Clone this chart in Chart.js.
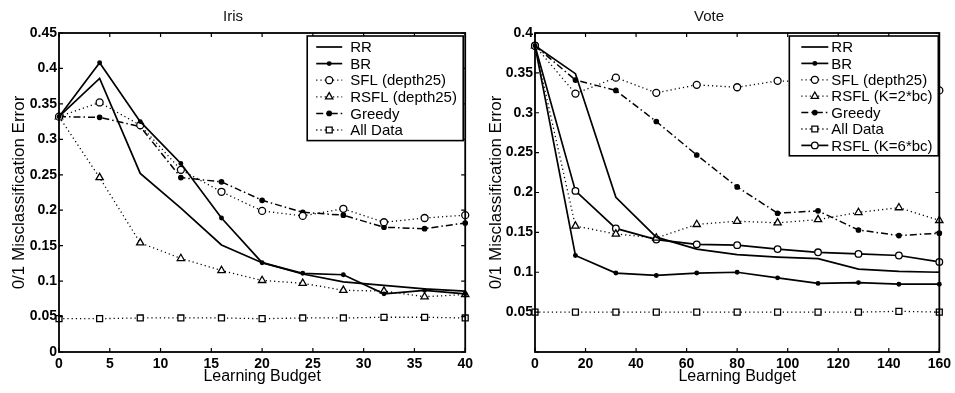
<!DOCTYPE html>
<html>
<head>
<meta charset="utf-8">
<script src="https://cdn.jsdelivr.net/npm/chart.js@4.4.1/dist/chart.umd.min.js"></script>
<style>
  html, body { margin: 0; padding: 0; background: #fff; }
  #wrap { display: flex; width: 955px; height: 393px; }
  .cell { position: relative; height: 393px; }
</style>
</head>
<body>
<div id="wrap">
  <div class="cell" style="width:477px"><canvas id="iris-chart"></canvas></div>
  <div class="cell" style="width:478px"><canvas id="vote-chart"></canvas></div>
</div>
<script>
// --- Data ---
const irisBudget  = [0, 4, 8, 12, 16, 20, 24, 28, 32, 36, 40];
const irisRR      = [0.332, 0.386, 0.252, 0.203, 0.151, 0.126, 0.110, 0.099, 0.094, 0.089, 0.086];
const irisBR      = [0.332, 0.408, 0.325, 0.266, 0.189, 0.126, 0.111, 0.109, 0.082, 0.087, 0.082];
const irisSFL     = [0.332, 0.352, 0.320, 0.257, 0.226, 0.199, 0.192, 0.202, 0.183, 0.189, 0.193];
const irisRSFL    = [0.332, 0.246, 0.154, 0.132, 0.115, 0.101, 0.097, 0.087, 0.086, 0.078, 0.081];
const irisGreedy  = [0.332, 0.331, 0.318, 0.246, 0.240, 0.214, 0.197, 0.193, 0.176, 0.174, 0.182];
const irisAllData = [0.047, 0.047, 0.048, 0.048, 0.048, 0.047, 0.048, 0.048, 0.049, 0.049, 0.048];

const voteBudget  = [0, 16, 32, 48, 64, 80, 96, 112, 128, 144, 160];
const voteRR      = [0.384, 0.349, 0.194, 0.144, 0.129, 0.122, 0.119, 0.117, 0.104, 0.101, 0.100];
const voteBR      = [0.384, 0.121, 0.099, 0.096, 0.099, 0.100, 0.093, 0.086, 0.087, 0.085, 0.085];
const voteSFL     = [0.384, 0.324, 0.344, 0.325, 0.335, 0.332, 0.340, 0.338, 0.336, 0.337, 0.328];
const voteRSFL2   = [0.384, 0.158, 0.148, 0.143, 0.160, 0.164, 0.162, 0.166, 0.175, 0.181, 0.165];
const voteGreedy  = [0.384, 0.341, 0.328, 0.289, 0.247, 0.207, 0.174, 0.177, 0.153, 0.146, 0.149];
const voteAllData = [0.050, 0.050, 0.050, 0.050, 0.050, 0.050, 0.050, 0.050, 0.050, 0.051, 0.050];
const voteRSFL6   = [0.384, 0.202, 0.155, 0.141, 0.135, 0.134, 0.129, 0.125, 0.123, 0.121, 0.113];

const FONT = '"Liberation Sans", Arial, Helvetica, sans-serif';

// line styles, matlab-ish
const styles = {
    RR:      { borderDash: [],             borderWidth: 1.7, pointStyle: 'circle',   pointRadius: 0,   fill: '#000' },
    BR:      { borderDash: [],             borderWidth: 1.7, pointStyle: 'circle',   pointRadius: 1.8, fill: '#000' },
    SFL:     { borderDash: [1.2, 3],       borderWidth: 1.3, pointStyle: 'circle',   pointRadius: 3.5, fill: '#fff' },
    RSFL:    { borderDash: [1.2, 3],       borderWidth: 1.3, pointStyle: 'triangle', pointRadius: 4.2, fill: '#fff' },
    Greedy:  { borderDash: [7, 3, 1.5, 3], borderWidth: 1.5, pointStyle: 'circle',   pointRadius: 2.2, fill: '#000' },
    AllData: { borderDash: [1.2, 3],       borderWidth: 1.3, pointStyle: 'rect',     pointRadius: 4.2, fill: '#fff' },
    RSFL6:   { borderDash: [],             borderWidth: 1.7, pointStyle: 'circle',   pointRadius: 3.3, fill: '#fff' }
};

function makeSet(label, xs, ys, st) {
    return {
        label: label,
        data: xs.map((x, i) => ({ x: x, y: ys[i] })),
        borderColor: '#000',
        borderWidth: st.borderWidth,
        borderDash: st.borderDash,
        pointStyle: st.pointStyle,
        pointRadius: st.pointRadius,
        pointBorderWidth: 1.3,
        pointBorderColor: '#000',
        pointBackgroundColor: st.fill,
        tension: 0,
        fill: false,
        clip: 6
    };
}

// box around the plot + inward tick marks on all four sides
const framePlugin = {
    id: 'frame',
    afterDatasetsDraw(chart) {
        const { ctx, chartArea: a, scales } = chart;
        ctx.save();
        ctx.strokeStyle = '#000';
        ctx.lineWidth = 1.2;
        ctx.setLineDash([]);
        ctx.beginPath();
        scales.x.ticks.forEach(t => {
            const px = scales.x.getPixelForValue(t.value);
            ctx.moveTo(px, a.bottom); ctx.lineTo(px, a.bottom - 4);
            ctx.moveTo(px, a.top);    ctx.lineTo(px, a.top + 4);
        });
        scales.y.ticks.forEach(t => {
            const py = scales.y.getPixelForValue(t.value);
            ctx.moveTo(a.left, py);  ctx.lineTo(a.left + 4, py);
            ctx.moveTo(a.right, py); ctx.lineTo(a.right - 4, py);
        });
        ctx.stroke();
        ctx.lineWidth = 1.8;
        ctx.strokeRect(a.left, a.top, a.right - a.left, a.bottom - a.top);
        ctx.restore();
    }
};

// legend box drawn inside the plot, top right (like the matlab figure)
const insideLegend = {
    id: 'insideLegend',
    afterDraw(chart, args, opts) {
        const { ctx, chartArea: a } = chart;
        const sets = chart.data.datasets;
        const rowH = opts.rowHeight;
        const w = opts.width;
        const h = sets.length * rowH + 5;
        const x0 = a.right - w - opts.offset;
        const y0 = a.top + 3;
        ctx.save();
        ctx.fillStyle = '#fff';
        ctx.fillRect(x0, y0, w, h);
        ctx.strokeStyle = '#000';
        ctx.lineWidth = 1.6;
        ctx.setLineDash([]);
        ctx.strokeRect(x0, y0, w, h);
        ctx.font = '15px ' + FONT;
        ctx.textBaseline = 'middle';
        sets.forEach((ds, i) => {
            const y = y0 + 11 + i * rowH;
            ctx.strokeStyle = '#000';
            ctx.lineWidth = ds.borderWidth;
            ctx.setLineDash(ds.borderDash || []);
            ctx.beginPath();
            ctx.moveTo(x0 + opts.lineStart, y);
            ctx.lineTo(x0 + opts.lineEnd, y);
            ctx.stroke();
            ctx.setLineDash([]);
            if (ds.pointRadius > 0) {
                ctx.fillStyle = ds.pointBackgroundColor;
                ctx.lineWidth = 1.3;
                Chart.helpers.drawPoint(ctx, {
                    pointStyle: ds.pointStyle, radius: ds.pointRadius, rotation: 0, borderWidth: 1.3
                }, (x0 + opts.lineStart + x0 + opts.lineEnd) / 2, y);
            }
            ctx.fillStyle = '#000';
            ctx.fillText(ds.label, x0 + opts.textStart, y + 1);
        });
        ctx.restore();
    }
};

function tickText(v) {
    return String(Math.round(v * 100) / 100);
}

function buildChart(canvasId, title, sets, xMax, xStep, yMax, hideZero, legendOpts, rightPad, yWidth) {
    return new Chart(document.getElementById(canvasId), {
        type: 'line',
        data: { datasets: sets },
        plugins: [framePlugin, insideLegend],
        options: {
            responsive: true,
            maintainAspectRatio: false,
            animation: false,
            layout: { padding: { left: 0, right: rightPad, top: 0, bottom: 0 } },
            plugins: {
                legend: { display: false },
                tooltip: { enabled: false },
                title: {
                    display: true,
                    text: title,
                    color: '#111',
                    font: { family: FONT, size: 15, weight: 'normal' },
                    padding: { top: 8, bottom: 7 }
                },
                insideLegend: legendOpts
            },
            scales: {
                x: {
                    type: 'linear',
                    min: 0,
                    max: xMax,
                    grid: { display: false, drawTicks: false },
                    border: { display: false },
                    ticks: {
                        stepSize: xStep,
                        color: '#000',
                        padding: 4,
                        maxRotation: 0,
                        font: { family: FONT, size: 14, weight: 'bold' },
                        callback: v => tickText(v)
                    },
                    title: {
                        display: true,
                        text: 'Learning Budget',
                        color: '#000',
                        font: { family: FONT, size: 16 },
                        padding: { top: 0, bottom: 7 }
                    },
                    afterFit: s => { s.height = 41; }
                },
                y: {
                    min: 0,
                    max: yMax,
                    grid: { display: false, drawTicks: false },
                    border: { display: false },
                    ticks: {
                        stepSize: 0.05,
                        color: '#000',
                        padding: 2,
                        font: { family: FONT, size: 14, weight: 'bold' },
                        callback: v => (hideZero && v === 0) ? '' : tickText(v)
                    },
                    title: {
                        display: true,
                        text: '0/1 Misclassification Error',
                        color: '#000',
                        font: { family: FONT, size: 17 },
                        padding: { top: 9, bottom: 0 }
                    },
                    afterFit: s => { s.width = yWidth; }
                }
            }
        }
    });
}

const irisSets = [
    makeSet('RR', irisBudget, irisRR, styles.RR),
    makeSet('BR', irisBudget, irisBR, styles.BR),
    makeSet('SFL (depth25)', irisBudget, irisSFL, styles.SFL),
    makeSet('RSFL (depth25)', irisBudget, irisRSFL, styles.RSFL),
    makeSet('Greedy', irisBudget, irisGreedy, styles.Greedy),
    makeSet('All Data', irisBudget, irisAllData, styles.AllData)
];

const voteSets = [
    makeSet('RR', voteBudget, voteRR, styles.RR),
    makeSet('BR', voteBudget, voteBR, styles.BR),
    makeSet('SFL (depth25)', voteBudget, voteSFL, styles.SFL),
    makeSet('RSFL (K=2*bc)', voteBudget, voteRSFL2, styles.RSFL),
    makeSet('Greedy', voteBudget, voteGreedy, styles.Greedy),
    makeSet('All Data', voteBudget, voteAllData, styles.AllData),
    makeSet('RSFL (K=6*bc)', voteBudget, voteRSFL6, styles.RSFL6)
];

buildChart('iris-chart', 'Iris', irisSets, 40, 5, 0.45, false,
    { width: 156, offset: 2, rowHeight: 16.6, lineStart: 9, lineEnd: 35, textStart: 43 }, 11, 59);
buildChart('vote-chart', 'Vote', voteSets, 160, 20, 0.4, true,
    { width: 149, offset: 1, rowHeight: 16.4, lineStart: 12, lineEnd: 39, textStart: 42 }, 14, 58);
</script>
</body>
</html>
